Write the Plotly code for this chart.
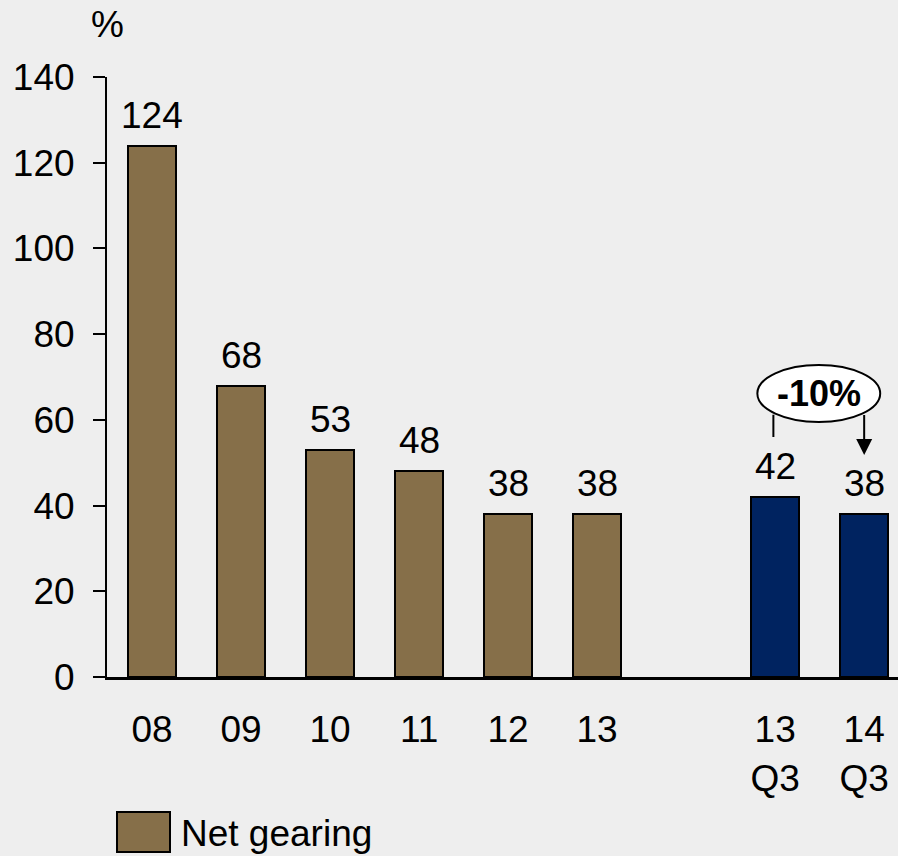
import plotly.graph_objects as go

# Net gearing, % — annual figures and Q3 comparison
years = ["08", "09", "10", "11", "12", "13"]
year_values = [124, 68, 53, 48, 38, 38]
quarters = ["13<br>Q3", "14<br>Q3"]
quarter_values = [42, 38]
y_ticks = [0, 20, 40, 60, 80, 100, 120, 140]
change_label = "-10%"

BROWN = "#866F49"
NAVY = "#002360"
BG = "#EEEEEE"
FONT = "Liberation Sans, Arial, sans-serif"
FS = 37

# numeric slots: annual bars 0..5, one empty slot, quarter bars 7..8
year_pos = list(range(len(years)))
quarter_pos = [len(years) + 1 + i for i in range(len(quarters))]

fig = go.Figure()
fig.add_trace(go.Bar(x=year_pos, y=year_values, marker=dict(color=BROWN, line=dict(color="black", width=2)),
                     width=0.54, name="Net gearing", showlegend=False))
fig.add_trace(go.Bar(x=quarter_pos, y=quarter_values, marker=dict(color=NAVY, line=dict(color="black", width=2)),
                     width=0.54, showlegend=False))

# value labels above bars
for xp, v in list(zip(year_pos, year_values)) + list(zip(quarter_pos, quarter_values)):
    fig.add_annotation(x=xp, y=v, text=str(v), showarrow=False, yanchor="bottom", yshift=8,
                       font=dict(family=FONT, size=FS, color="black"))

# change callout between the two quarter bars
q0, q1 = quarter_pos
fig.add_shape(type="circle", xref="x", yref="y", x0=q0 - 0.20, x1=q1 + 0.18, y0=59.5, y1=72.8,
              line=dict(color="black", width=2), fillcolor="white", layer="above")
fig.add_annotation(x=(q0 + q1) / 2 - 0.01, y=66.2, text="<b>" + change_label + "</b>", showarrow=False,
                   font=dict(family=FONT, size=36, color="black"))
fig.add_shape(type="line", xref="x", yref="y", x0=q0 - 0.02, x1=q0 - 0.02, y0=56, y1=61.2,
              line=dict(color="black", width=2))
fig.add_annotation(x=q1, y=51.8, ax=q1, ay=61.5, axref="x", ayref="y", xref="x", yref="y",
                   text="", showarrow=True, arrowhead=2, arrowsize=1.6, arrowwidth=2, arrowcolor="black")

# unit label
fig.add_annotation(xref="paper", yref="paper", x=0.0, y=1.0, xanchor="center", yanchor="middle",
                   yshift=53, text="%", showarrow=False, font=dict(family=FONT, size=FS, color="black"))

# legend
fig.add_shape(type="rect", xref="paper", yref="paper", x0=(117 - 107) / 791, x1=(170 - 107) / 791,
              y0=-(852 - 677) / 600, y1=-(812 - 677) / 600, fillcolor=BROWN, line=dict(color="black", width=2))
fig.add_annotation(xref="paper", yref="paper", x=(179 - 107) / 791, y=-(833 - 677) / 600, xanchor="left",
                   yanchor="middle", text="Net gearing", showarrow=False,
                   font=dict(family=FONT, size=FS, color="black"))

fig.update_layout(
    width=898, height=856, margin=dict(l=107, r=0, t=77, b=179),
    paper_bgcolor=BG, plot_bgcolor=BG, bargap=0,
    font=dict(family=FONT, size=FS, color="black"),
)
fig.update_xaxes(range=[-0.506, 8.38], tickmode="array", tickvals=year_pos + quarter_pos,
                 ticktext=years + quarters, showline=True, linecolor="black", linewidth=3,
                 ticks="", showgrid=False, zeroline=False, ticklabelstandoff=18)
fig.update_yaxes(range=[0, 140], tickmode="array", tickvals=y_ticks, showline=True, linecolor="black",
                 linewidth=2, ticks="outside", ticklen=12, tickwidth=2, tickcolor="black",
                 showgrid=False, zeroline=False, ticklabelstandoff=11)

fig.write_html("out.html")
